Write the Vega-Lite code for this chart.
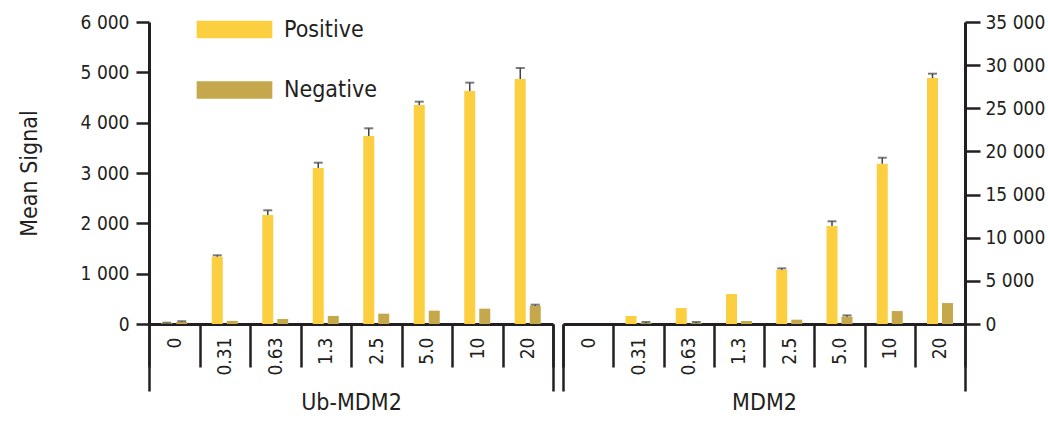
{
  "$schema": "https://vega.github.io/schema/vega-lite/v6.json",
  "padding": {"left": 18, "top": 13, "right": 0, "bottom": 0},
  "background": "white",
  "config": {
    "font": "DejaVu Sans Condensed",
    "view": {"stroke": null},
    "axis": {
      "grid": false,
      "domainColor": "#231f20",
      "domainWidth": 3,
      "tickColor": "#231f20",
      "tickWidth": 2.5,
      "labelColor": "#231f20",
      "titleColor": "#231f20",
      "labelFontSize": 19,
      "titleFontSize": 23,
      "titleFontWeight": "normal",
      "labelFont": "DejaVu Sans Condensed",
      "titleFont": "DejaVu Sans Condensed"
    },
    "legend": {
      "labelFont": "DejaVu Sans Condensed",
      "labelFontSize": 23,
      "labelColor": "#231f20"
    }
  },
  "datasets": {
    "ub": [
      {"conc": "0", "series": "Positive", "value": 15, "upper": 25},
      {"conc": "0", "series": "Negative", "value": 40, "upper": 55},
      {"conc": "0.31", "series": "Positive", "value": 1337, "upper": 1365},
      {"conc": "0.31", "series": "Negative", "value": 62, "upper": 62},
      {"conc": "0.63", "series": "Positive", "value": 2166, "upper": 2259},
      {"conc": "0.63", "series": "Negative", "value": 100, "upper": 100},
      {"conc": "1.3", "series": "Positive", "value": 3100, "upper": 3205},
      {"conc": "1.3", "series": "Negative", "value": 160, "upper": 160},
      {"conc": "2.5", "series": "Positive", "value": 3735, "upper": 3888},
      {"conc": "2.5", "series": "Negative", "value": 205, "upper": 205},
      {"conc": "5.0", "series": "Positive", "value": 4351, "upper": 4417},
      {"conc": "5.0", "series": "Negative", "value": 265, "upper": 265},
      {"conc": "10", "series": "Positive", "value": 4629, "upper": 4795},
      {"conc": "10", "series": "Negative", "value": 305, "upper": 305},
      {"conc": "20", "series": "Positive", "value": 4868, "upper": 5086},
      {"conc": "20", "series": "Negative", "value": 364, "upper": 384}
    ],
    "mdm": [
      {"conc": "0", "series": "Positive", "value": 0, "upper": 0},
      {"conc": "0", "series": "Negative", "value": 0, "upper": 0},
      {"conc": "0.31", "series": "Positive", "value": 930, "upper": 930},
      {"conc": "0.31", "series": "Negative", "value": 100, "upper": 230},
      {"conc": "0.63", "series": "Positive", "value": 1854, "upper": 1854},
      {"conc": "0.63", "series": "Negative", "value": 100, "upper": 230},
      {"conc": "1.3", "series": "Positive", "value": 3476, "upper": 3476},
      {"conc": "1.3", "series": "Negative", "value": 350, "upper": 350},
      {"conc": "2.5", "series": "Positive", "value": 6290, "upper": 6450},
      {"conc": "2.5", "series": "Negative", "value": 500, "upper": 500},
      {"conc": "5.0", "series": "Positive", "value": 11355, "upper": 11900},
      {"conc": "5.0", "series": "Negative", "value": 850, "upper": 1000},
      {"conc": "10", "series": "Positive", "value": 18575, "upper": 19270},
      {"conc": "10", "series": "Negative", "value": 1500, "upper": 1500},
      {"conc": "20", "series": "Positive", "value": 28505, "upper": 29010},
      {"conc": "20", "series": "Negative", "value": 2430, "upper": 2430}
    ]
  },
  "spacing": -1,
  "resolve": {"scale": {"color": "independent"}},
  "hconcat": [
    {
      "width": 404,
      "height": 302,
      "data": {"name": "ub"},
      "resolve": {"axis": {"x": "independent"}},
      "layer": [
        {
          "mark": {"type": "bar", "width": 11},
          "encoding": {
            "x": {
              "field": "conc", "type": "nominal",
              "scale": {"domain": ["0", "0.31", "0.63", "1.3", "2.5", "5.0", "10", "20"], "paddingInner": 0, "paddingOuter": 0},
              "axis": {"orient": "bottom", "tickBand": "extent", "tickSize": 43, "labelPadding": -30, "labelAngle": 270, "labelOverlap": false, "title": "Ub-MDM2", "titlePadding": 16}
            },
            "xOffset": {"field": "series", "type": "nominal", "scale": {"domain": ["Positive", "Negative"], "paddingInner": 0.27, "paddingOuter": 0.82}},
            "y": {
              "field": "value", "type": "quantitative",
              "scale": {"domain": [0, 6000], "nice": false},
              "axis": {"values": [0, 1000, 2000, 3000, 4000, 5000, 6000], "labelExpr": "replace(format(datum.value, ','), ',', ' ')", "tickSize": 13, "labelPadding": 7, "title": "Mean Signal", "titlePadding": 39}
            },
            "color": {
              "field": "series", "type": "nominal",
              "scale": {"domain": ["Positive", "Negative"], "range": ["#fccf41", "#c6a84c"]},
              "legend": {
                "orient": "none", "legendX": 74, "legendY": -4, "title": null,
                "symbolType": "M-4.3,-1H4.3V1H-4.3Z", "symbolSize": 310,
                "symbolStrokeWidth": 0, "symbolOpacity": 1, "labelOffset": 38, "rowPadding": 36.5, "labelLimit": 0
              }
            }
          }
        },
        {
          "transform": [{"filter": "datum.upper > datum.value"}],
          "mark": {"type": "rule", "color": "#444444", "strokeWidth": 1.5},
          "encoding": {
            "x": {
              "field": "conc", "type": "nominal",
              "scale": {"domain": ["0", "0.31", "0.63", "1.3", "2.5", "5.0", "10", "20"], "paddingInner": 0, "paddingOuter": 0},
              "axis": {"orient": "bottom", "values": ["0"], "bandPosition": 0, "tickSize": 67, "labels": false, "domain": false, "title": null}
            },
            "xOffset": {"field": "series", "type": "nominal", "scale": {"domain": ["Positive", "Negative"], "paddingInner": 0.27, "paddingOuter": 0.82}},
            "y": {
              "field": "value", "type": "quantitative",
              "scale": {"domain": [0, 6000], "nice": false},
              "axis": {"values": [0, 1000, 2000, 3000, 4000, 5000, 6000], "labelExpr": "replace(format(datum.value, ','), ',', ' ')", "tickSize": 13, "labelPadding": 7, "title": "Mean Signal", "titlePadding": 39}
            },
            "y2": {"field": "upper"}
          }
        },
        {
          "transform": [{"filter": "datum.upper > datum.value"}],
          "mark": {"type": "tick", "color": "#444444", "thickness": 2, "size": 9},
          "encoding": {
            "x": {
              "field": "conc", "type": "nominal",
              "scale": {"domain": ["0", "0.31", "0.63", "1.3", "2.5", "5.0", "10", "20"], "paddingInner": 0, "paddingOuter": 0},
              "axis": {"orient": "bottom", "values": ["20"], "bandPosition": 1, "tickSize": 67, "labels": false, "domain": false, "title": null}
            },
            "xOffset": {"field": "series", "type": "nominal", "scale": {"domain": ["Positive", "Negative"], "paddingInner": 0.27, "paddingOuter": 0.82}},
            "y": {
              "field": "upper", "type": "quantitative",
              "scale": {"domain": [0, 6000], "nice": false},
              "axis": {"values": [0, 1000, 2000, 3000, 4000, 5000, 6000], "labelExpr": "replace(format(datum.value, ','), ',', ' ')", "tickSize": 13, "labelPadding": 7, "title": "Mean Signal", "titlePadding": 39}
            }
          }
        }
      ]
    },
    {
      "width": 402,
      "height": 302,
      "data": {"name": "mdm"},
      "resolve": {"axis": {"x": "independent"}},
      "layer": [
        {
          "mark": {"type": "bar", "width": 11},
          "encoding": {
            "x": {
              "field": "conc", "type": "nominal",
              "scale": {"domain": ["0", "0.31", "0.63", "1.3", "2.5", "5.0", "10", "20"], "paddingInner": 0, "paddingOuter": 0},
              "axis": {"orient": "bottom", "tickBand": "extent", "tickSize": 43, "labelPadding": -30, "labelAngle": 270, "labelOverlap": false, "title": "MDM2", "titlePadding": 16}
            },
            "xOffset": {"field": "series", "type": "nominal", "scale": {"domain": ["Positive", "Negative"], "paddingInner": 0.27, "paddingOuter": 0.82}},
            "y": {
              "field": "value", "type": "quantitative",
              "scale": {"domain": [0, 35000], "nice": false},
              "axis": {"orient": "right", "values": [0, 5000, 10000, 15000, 20000, 25000, 30000, 35000], "labelExpr": "replace(format(datum.value, ','), ',', ' ')", "tickSize": 15, "labelPadding": 5, "title": null}
            },
            "color": {
              "field": "series", "type": "nominal",
              "scale": {"domain": ["Positive", "Negative"], "range": ["#fccf41", "#c6a84c"]},
              "legend": null
            }
          }
        },
        {
          "transform": [{"filter": "datum.upper > datum.value"}],
          "mark": {"type": "rule", "color": "#444444", "strokeWidth": 1.5},
          "encoding": {
            "x": {
              "field": "conc", "type": "nominal",
              "scale": {"domain": ["0", "0.31", "0.63", "1.3", "2.5", "5.0", "10", "20"], "paddingInner": 0, "paddingOuter": 0},
              "axis": {"orient": "bottom", "values": ["0"], "bandPosition": 0, "tickSize": 67, "labels": false, "domain": false, "title": null}
            },
            "xOffset": {"field": "series", "type": "nominal", "scale": {"domain": ["Positive", "Negative"], "paddingInner": 0.27, "paddingOuter": 0.82}},
            "y": {
              "field": "value", "type": "quantitative",
              "scale": {"domain": [0, 35000], "nice": false},
              "axis": {"orient": "right", "values": [0, 5000, 10000, 15000, 20000, 25000, 30000, 35000], "labelExpr": "replace(format(datum.value, ','), ',', ' ')", "tickSize": 15, "labelPadding": 5, "title": null}
            },
            "y2": {"field": "upper"}
          }
        },
        {
          "transform": [{"filter": "datum.upper > datum.value"}],
          "mark": {"type": "tick", "color": "#444444", "thickness": 2, "size": 9},
          "encoding": {
            "x": {
              "field": "conc", "type": "nominal",
              "scale": {"domain": ["0", "0.31", "0.63", "1.3", "2.5", "5.0", "10", "20"], "paddingInner": 0, "paddingOuter": 0},
              "axis": {"orient": "bottom", "values": ["20"], "bandPosition": 1, "tickSize": 67, "labels": false, "domain": false, "title": null}
            },
            "xOffset": {"field": "series", "type": "nominal", "scale": {"domain": ["Positive", "Negative"], "paddingInner": 0.27, "paddingOuter": 0.82}},
            "y": {
              "field": "upper", "type": "quantitative",
              "scale": {"domain": [0, 35000], "nice": false},
              "axis": {"orient": "right", "values": [0, 5000, 10000, 15000, 20000, 25000, 30000, 35000], "labelExpr": "replace(format(datum.value, ','), ',', ' ')", "tickSize": 15, "labelPadding": 5, "title": null}
            }
          }
        }
      ]
    }
  ]
}
